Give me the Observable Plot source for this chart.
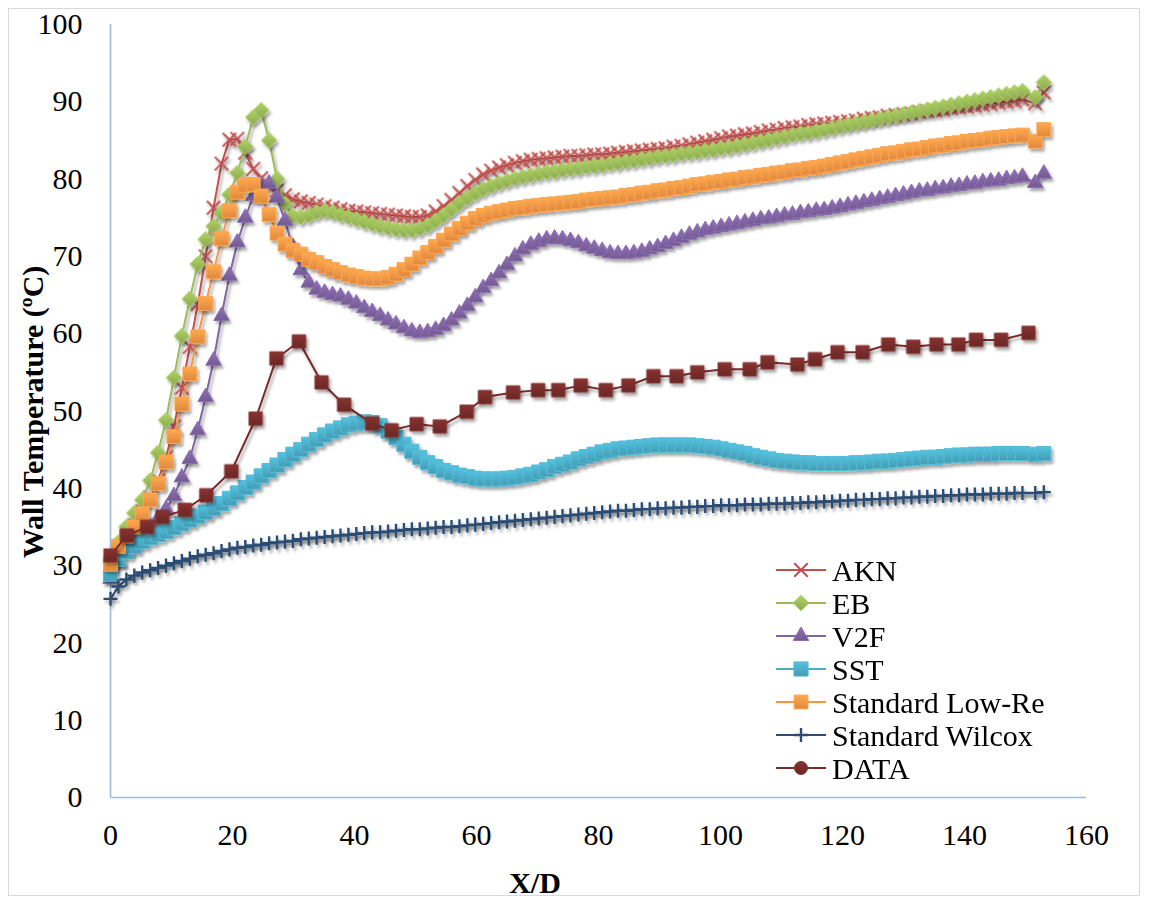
<!DOCTYPE html>
<html>
<head>
<meta charset="utf-8">
<script src="https://cdn.jsdelivr.net/npm/d3@7"></script>
<script src="https://cdn.jsdelivr.net/npm/@observablehq/plot@0.6"></script>
<style>
  html, body { margin: 0; padding: 0; background: #fff; }
  #chart { position: relative; width: 1149px; height: 905px; }
  #chart svg text { font-family: "Liberation Serif", "Times New Roman", serif !important; }
</style>
</head>
<body>
<div id="chart"></div>
<script>
// Axial stations X/D shared by the six turbulence-model solutions
const xd = [
  0, 1.3, 2.6, 3.9, 5.2, 6.5, 7.8, 9.1, 10.4, 11.7,
  13.0, 14.3, 15.6, 16.9, 18.2, 19.5, 20.8, 22.1, 23.4, 24.7,
  26.0, 27.3, 28.6, 29.9, 31.2, 32.5, 33.8, 35.1, 36.4, 37.7,
  39.0, 40.3, 41.6, 42.9, 44.2, 45.5, 46.8, 48.1, 49.4, 50.7,
  52.0, 53.3, 54.6, 55.9, 57.2, 58.5, 59.8, 61.1, 62.4, 63.7,
  65.0, 66.3, 67.6, 68.9, 70.2, 71.5, 72.8, 74.1, 75.4, 76.7,
  78.0, 79.3, 80.6, 81.9, 83.2, 84.5, 85.8, 87.1, 88.4, 89.7,
  91.0, 92.3, 93.6, 94.9, 96.2, 97.5, 98.8, 100.1, 101.4, 102.7,
  104.0, 105.3, 106.6, 107.9, 109.2, 110.5, 111.8, 113.1, 114.4, 115.7,
  117.0, 118.3, 119.6, 120.9, 122.2, 123.5, 124.8, 126.1, 127.4, 128.7,
  130.0, 131.3, 132.6, 133.9, 135.2, 136.5, 137.8, 139.1, 140.4, 141.7,
  143.0, 144.3, 145.6, 146.9, 148.2, 149.5,
  151.6, 153.0
];

// Wall temperature (°C) for each model
const akn = [
  30.0, 31.8, 33.5, 35.2, 37.0, 38.8, 41.0, 44.0, 48.0, 53.0,
  58.3, 63.8, 70.0, 76.3, 82.0, 85.1, 85.2, 83.4, 81.3, 80.1,
  79.2, 78.5, 77.9, 77.4, 77.1, 76.9, 76.7, 76.5, 76.3, 76.1,
  75.9, 75.8, 75.7, 75.6, 75.5, 75.4, 75.3, 75.2, 75.1, 75.1,
  75.3, 75.8, 76.5, 77.3, 78.2, 79.1, 79.9, 80.6, 81.1, 81.5,
  81.8, 82.1, 82.3, 82.5, 82.6, 82.7, 82.8, 82.9, 83.0, 83.0,
  83.1, 83.2, 83.2, 83.3, 83.4, 83.5, 83.6, 83.7, 83.8, 83.9,
  84.0, 84.2, 84.3, 84.5, 84.7, 84.9, 85.1, 85.3, 85.5, 85.6,
  85.8, 85.9, 86.1, 86.3, 86.4, 86.6, 86.7, 86.8, 87.0, 87.1,
  87.2, 87.3, 87.4, 87.5, 87.6, 87.8, 87.9, 88.0, 88.2, 88.3,
  88.4, 88.5, 88.7, 88.8, 88.9, 89.0, 89.2, 89.3, 89.4, 89.5,
  89.6, 89.7, 89.9, 90.0, 90.1, 90.3,
  89.8, 91.2
];
const eb = [
  30.5, 33.0, 35.0, 36.8, 38.5, 41.0, 44.6, 48.8, 54.3, 59.7,
  64.5, 69.0, 72.2, 73.9, 75.6, 78.0, 80.8, 84.2, 88.0, 88.9,
  85.0, 80.0, 76.8, 75.2, 75.1, 75.3, 75.7, 75.9, 75.7, 75.4,
  75.1, 74.8, 74.5, 74.2, 73.9, 73.7, 73.5, 73.4, 73.4, 73.6,
  74.0, 74.6, 75.3, 76.1, 76.9, 77.6, 78.2, 78.7, 79.1, 79.5,
  79.8, 80.1, 80.3, 80.5, 80.7, 80.9, 81.0, 81.2, 81.3, 81.4,
  81.6, 81.7, 81.8, 82.0, 82.1, 82.3, 82.4, 82.6, 82.7, 82.9,
  83.0, 83.1, 83.3, 83.4, 83.5, 83.7, 83.8, 84.0, 84.1, 84.3,
  84.5, 84.7, 84.9, 85.1, 85.3, 85.5, 85.7, 85.9, 86.0, 86.2,
  86.4, 86.6, 86.8, 87.0, 87.2, 87.4, 87.6, 87.8, 88.0, 88.2,
  88.4, 88.6, 88.8, 89.0, 89.2, 89.4, 89.6, 89.8, 90.0, 90.2,
  90.4, 90.6, 90.8, 91.0, 91.2, 91.4,
  90.6, 92.5
];
const v2f = [
  28.3, 30.5, 32.0, 33.0, 34.0, 35.0, 36.1, 37.3, 39.0, 41.4,
  43.8, 47.5, 51.8, 56.5, 62.3, 67.5, 71.8, 75.0, 77.8, 79.3,
  79.4, 77.6, 74.6, 71.2, 68.2, 66.6, 65.7, 65.3, 65.0, 64.8,
  64.4, 63.9, 63.3, 62.8, 62.3, 61.7, 61.2, 60.7, 60.3, 60.1,
  60.2, 60.5, 61.0, 61.7, 62.6, 63.6, 64.7, 65.9, 66.8, 67.8,
  68.9, 70.0, 70.9, 71.5, 71.9, 72.2, 72.3, 72.2, 72.0, 71.7,
  71.3, 71.0, 70.7, 70.4, 70.3, 70.3, 70.4, 70.6, 70.9, 71.2,
  71.6, 72.0, 72.4, 72.8, 73.1, 73.4, 73.6, 73.8, 74.0, 74.2,
  74.4, 74.6, 74.8, 74.9, 75.1, 75.3, 75.4, 75.6, 75.7, 75.9,
  76.0, 76.2, 76.4, 76.6, 76.8, 77.0, 77.2, 77.4, 77.6, 77.8,
  78.0, 78.2, 78.4, 78.5, 78.7, 78.8, 79.0, 79.1, 79.3, 79.4,
  79.6, 79.7, 79.8, 80.0, 80.1, 80.3,
  79.5, 80.7
];
const sst = [
  28.9, 30.8, 31.8, 32.5, 33.1, 33.6, 34.0, 34.4, 34.9, 35.4,
  35.9, 36.4, 36.9, 37.4, 38.0, 38.7, 39.4, 40.1, 40.8, 41.6,
  42.3, 43.0, 43.7, 44.4, 45.0, 45.7, 46.3, 46.9, 47.4, 47.8,
  48.2, 48.4, 48.6, 48.5, 48.1, 47.4, 46.6, 45.7, 44.8, 44.0,
  43.3, 42.8, 42.3, 42.0, 41.7, 41.5, 41.3, 41.2, 41.2, 41.2,
  41.3, 41.4, 41.6, 41.8, 42.1, 42.4, 42.8, 43.1, 43.4, 43.8,
  44.1, 44.4, 44.7, 44.9, 45.1, 45.2, 45.3, 45.4, 45.5, 45.6,
  45.6, 45.6, 45.6, 45.6, 45.5, 45.4, 45.3, 45.1, 44.9, 44.7,
  44.5, 44.2, 44.0, 43.8, 43.6, 43.5, 43.4, 43.3, 43.3, 43.2,
  43.2, 43.2, 43.2, 43.2, 43.3, 43.3, 43.4, 43.5, 43.5, 43.6,
  43.7, 43.8, 43.9, 44.0, 44.0, 44.1, 44.2, 44.3, 44.3, 44.4,
  44.4, 44.4, 44.5, 44.5, 44.5, 44.5,
  44.4, 44.5
];
const lowRe = [
  30.2, 32.5, 33.8, 35.0, 36.7, 38.5, 40.6, 43.4, 46.7, 50.9,
  54.8, 59.6, 63.9, 68.0, 72.3, 75.9, 78.3, 79.2, 79.3, 77.8,
  75.4, 73.0, 71.6, 70.8, 70.3, 69.6, 69.2, 68.7, 68.3, 67.9,
  67.6, 67.4, 67.2, 67.1, 67.1, 67.3, 67.7, 68.3, 69.0, 69.8,
  70.5, 71.3, 72.1, 72.9, 73.6, 74.3, 74.9, 75.3, 75.6, 75.8,
  76.0, 76.2, 76.3, 76.5, 76.6, 76.7, 76.8, 76.9, 77.0, 77.1,
  77.3, 77.4, 77.5, 77.6, 77.7, 77.9, 78.0, 78.2, 78.3, 78.5,
  78.6, 78.8, 78.9, 79.1, 79.3, 79.4, 79.6, 79.7, 79.9, 80.0,
  80.2, 80.3, 80.5, 80.6, 80.8, 80.9, 81.1, 81.2, 81.4, 81.5,
  81.7, 81.9, 82.1, 82.3, 82.5, 82.7, 82.9, 83.1, 83.3, 83.4,
  83.6, 83.8, 83.9, 84.1, 84.3, 84.4, 84.6, 84.7, 84.9, 85.0,
  85.1, 85.3, 85.4, 85.5, 85.6, 85.7,
  84.9, 86.4
];
const wilcox = [
  25.7, 27.3, 28.2, 28.7, 29.1, 29.4, 29.7, 30.0, 30.3, 30.6,
  30.9, 31.2, 31.4, 31.6, 31.9, 32.1, 32.3, 32.4, 32.6, 32.7,
  32.9, 33.0, 33.1, 33.2, 33.4, 33.5, 33.6, 33.7, 33.8, 33.9,
  34.0, 34.1, 34.2, 34.3, 34.3, 34.4, 34.5, 34.6, 34.7, 34.7,
  34.8, 34.9, 35.0, 35.0, 35.1, 35.2, 35.3, 35.4, 35.5, 35.6,
  35.7, 35.8, 35.9, 36.0, 36.1, 36.2, 36.3, 36.4, 36.5, 36.6,
  36.7, 36.8, 36.9, 37.0, 37.1, 37.1, 37.2, 37.3, 37.3, 37.4,
  37.4, 37.5, 37.5, 37.6, 37.6, 37.7, 37.7, 37.8, 37.8, 37.8,
  37.9, 37.9, 37.9, 38.0, 38.0, 38.0, 38.1, 38.1, 38.2, 38.2,
  38.3, 38.3, 38.4, 38.4, 38.5, 38.5, 38.6, 38.6, 38.7, 38.7,
  38.8, 38.8, 38.9, 38.9, 39.0, 39.0, 39.1, 39.1, 39.2, 39.2,
  39.2, 39.3, 39.3, 39.3, 39.4, 39.4,
  39.4, 39.5
];

// Measured wall temperature
const dataX = [
  0, 2.7, 6.0, 8.5, 12.2, 15.7, 19.8, 23.8, 27.2, 30.9,
  34.6, 38.3, 42.9, 46.1, 50.2, 54.0, 58.4, 61.4, 66.0, 70.1,
  73.4, 77.1, 81.2, 84.9, 89.0, 92.8, 96.2, 100.7, 104.8, 107.7,
  112.6, 115.5, 119.2, 123.3, 127.5, 131.6, 135.4, 139.0, 141.9, 146.0,
  150.5
];
const dataY = [
  31.3, 33.9, 35.0, 36.3, 37.2, 39.1, 42.2, 49.0, 56.8, 59.0,
  53.7, 50.8, 48.4, 47.5, 48.3, 48.0, 49.9, 51.8, 52.4, 52.7,
  52.7, 53.3, 52.7, 53.3, 54.5, 54.5, 55.0, 55.4, 55.4, 56.3,
  56.0, 56.7, 57.6, 57.6, 58.6, 58.3, 58.6, 58.6, 59.2, 59.2,
  60.1
];

const xTicks = [0, 20, 40, 60, 80, 100, 120, 140, 160];
const yTicks = [0, 10, 20, 30, 40, 50, 60, 70, 80, 90, 100];

const serif = "'Liberation Serif', 'Times New Roman', serif";

// Series styling: color, marker symbol, radius, filled or stroked marker
const series = [
  {id: "akn", name: "AKN", x: xd, y: akn, color: "#C0504D", symbol: "times", r: 6.2, filled: false, sw: 2},
  {id: "eb", name: "EB", x: xd, y: eb, color: "#9BBB59", symbol: "diamond2", r: 7.0, filled: true},
  {id: "v2f", name: "V2F", x: xd, y: v2f, color: "#8064A2", symbol: "triangle", r: 5.8, filled: true},
  {id: "sst", name: "SST", x: xd, y: sst, color: "#4BACC6", symbol: "square", r: 8.0, filled: true},
  {id: "lowre", name: "Standard Low-Re", x: xd, y: lowRe, color: "#F79646", symbol: "square", r: 7.8, filled: true},
  {id: "wilcox", name: "Standard Wilcox", x: xd, y: wilcox, color: "#2C4D75", symbol: "plus", r: 4.6, filled: false, sw: 2.4},
  {id: "data", name: "DATA", x: dataX, y: dataY, color: "#772C2A", symbol: "square", r: 7.5, filled: true, legendSymbol: "circle"}
];

const outline = c => d3.color(c).brighter(0.25).formatHex();

const marks = [
  Plot.ruleX([0], {stroke: "#9CBAE2", strokeWidth: 1.6}),
  Plot.ruleY([0], {stroke: "#9CBAE2", strokeWidth: 1.6}),
  Plot.axisX({ticks: xTicks, tickSize: 0, tickPadding: 26, label: null, fontFamily: serif, fontSize: 30}),
  Plot.axisY({ticks: yTicks, tickSize: 0, tickPadding: 28, label: null, fontFamily: serif, fontSize: 30})
];

for (const s of series) {
  const rows = s.x.map((x, i) => ({x, y: s.y[i]}));
  marks.push(Plot.line(rows, {x: "x", y: "y", stroke: s.color, strokeWidth: 2}));
  marks.push(Plot.dot(rows, {
    x: "x", y: "y", symbol: s.symbol, r: s.r,
    fill: s.filled ? `url(#grad-${s.id})` : "none",
    stroke: s.filled ? outline(s.color) : s.color,
    strokeWidth: s.filled ? 1 : s.sw
  }));
}

const chart = Plot.plot({
  width: 1149,
  height: 905,
  marginLeft: 110,
  marginRight: 63,
  marginTop: 24,
  marginBottom: 108,
  x: {domain: [0, 160]},
  y: {domain: [0, 100]},
  style: {
    fontFamily: serif,
    fontSize: "30px",
    color: "#000",
    background: "#fff"
  },
  marks
});

document.getElementById("chart").appendChild(chart);

const svg = d3.select(chart);
svg.selectAll("g[aria-label$='tick label']").attr("font-variant", "normal");

// Gradient fills for the markers and a soft drop shadow under the series
const defs = svg.insert("defs", ":first-child");
for (const s of series.filter(d => d.filled)) {
  const g = defs.append("linearGradient").attr("id", `grad-${s.id}`)
    .attr("x1", 0).attr("y1", 0).attr("x2", 0).attr("y2", 1);
  g.append("stop").attr("offset", "0%").attr("stop-color", d3.color(s.color).brighter(0.35).formatHex());
  g.append("stop").attr("offset", "100%").attr("stop-color", d3.color(s.color).darker(0.3).formatHex());
}
const filt = defs.append("filter").attr("id", "shade")
  .attr("x", "-10%").attr("y", "-10%").attr("width", "130%").attr("height", "130%");
filt.append("feDropShadow").attr("dx", 2).attr("dy", 3).attr("stdDeviation", 1.8)
  .attr("flood-color", "#000").attr("flood-opacity", 0.35);
svg.selectAll('g[aria-label="dot"], g[aria-label="line"]').attr("filter", "url(#shade)");

// Chart-area border
svg.insert("rect", "defs + *")
  .attr("x", 8.5).attr("y", 8.5).attr("width", 1131).attr("height", 887)
  .attr("fill", "none").attr("stroke", "#D9D9D9").attr("stroke-width", 1);

// Axis titles
svg.append("text")
  .attr("transform", "translate(43,412) rotate(-90)")
  .attr("text-anchor", "middle")
  .attr("font-weight", "bold")
  .attr("font-size", 30)
  .text("Wall Temperature (ºC)");
svg.append("text")
  .attr("x", 535).attr("y", 893)
  .attr("text-anchor", "middle")
  .attr("font-weight", "bold")
  .attr("font-size", 30)
  .text("X/D");

// Legend
const symbolTypes = {
  times: d3.symbolTimes, diamond2: d3.symbolDiamond2, triangle: d3.symbolTriangle,
  square: d3.symbolSquare, plus: d3.symbolPlus, circle: d3.symbolCircle
};
const legend = svg.append("g").attr("transform", "translate(776,570)");
series.forEach((s, i) => {
  const g = legend.append("g").attr("transform", `translate(0,${i * 33})`);
  g.append("line").attr("x1", 0).attr("x2", 50).attr("y1", 0).attr("y2", 0)
    .attr("stroke", s.color).attr("stroke-width", 2);
  const sym = s.legendSymbol || s.symbol;
  const rr = s.legendSymbol ? 6.5 : s.r;
  g.append("path")
    .attr("transform", "translate(25,0)")
    .attr("d", d3.symbol(symbolTypes[sym], Math.PI * rr * rr)())
    .attr("fill", s.filled ? `url(#grad-${s.id})` : "none")
    .attr("stroke", s.filled ? outline(s.color) : s.color)
    .attr("stroke-width", s.filled ? 1 : s.sw);
  g.append("text").attr("x", 56).attr("y", 0).attr("dy", "0.35em")
    .attr("text-anchor", "start")
    .attr("font-size", 30).attr("fill", "#000").text(s.name);
});
</script>
</body>
</html>
